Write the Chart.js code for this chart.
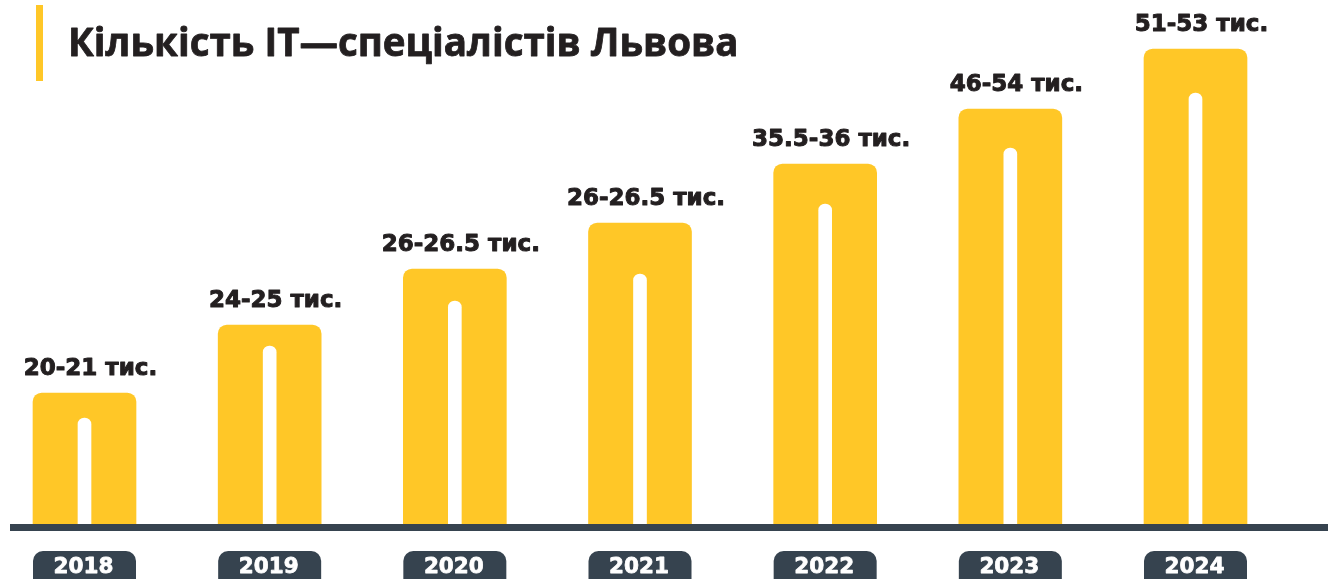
<!DOCTYPE html>
<html>
<head>
<meta charset="utf-8">
<script src="https://cdn.jsdelivr.net/npm/chart.js@4"></script>
<style>
  html, body { margin: 0; padding: 0; background: #ffffff; overflow: hidden; }
  #wrap { position: relative; width: 1328px; height: 579px; }
  canvas { display: block; }
</style>
</head>
<body>
<div id="wrap"><canvas id="c" width="1328" height="579"></canvas></div>
<script>
// ---- data ----
const years = ['2018', '2019', '2020', '2021', '2022', '2023', '2024'];
const valueLabels = ['20-21 тис.', '24-25 тис.', '26-26.5 тис.', '26-26.5 тис.', '35.5-36 тис.', '46-54 тис.', '51-53 тис.'];
// bar heights as drawn (relative units)
const barHeights = [131, 199, 255, 301, 360, 415, 475];
// inner white slot heights
const slotHeights = [106, 178, 223, 250, 320, 376, 431];
const titleText = 'Кількість IT—спеціалістів Львова';

const YELLOW = '#FFC727';
const DARK = '#36434F';
const TEXT = '#231F20';

function heavyText(ctx, txt, x, y, color, lw) {
  ctx.fillStyle = color;
  ctx.strokeStyle = color;
  ctx.lineWidth = lw;
  ctx.lineJoin = 'round';
  ctx.strokeText(txt, x, y);
  ctx.fillText(txt, x, y);
}

const decor = {
  id: 'decor',
  beforeDatasetsDraw(chart) {
    const ctx = chart.ctx;
    ctx.save();
    // title accent bar
    ctx.fillStyle = YELLOW;
    ctx.fillRect(36, 5, 7, 76);
    // title
    ctx.font = 'bold 38.5px "Open Sans"';
    ctx.textBaseline = 'alphabetic';
    ctx.textAlign = 'left';
    heavyText(ctx, titleText, 68, 56, TEXT, 0.8);
    ctx.restore();
  },
  afterDatasetsDraw(chart) {
    const ctx = chart.ctx;
    const area = chart.chartArea;
    const xs = chart.scales.x;
    const meta = chart.getDatasetMeta(0);
    ctx.save();
    // baseline
    ctx.fillStyle = DARK;
    ctx.fillRect(10, area.bottom, chart.width - 10, 7);
    // value labels
    ctx.font = 'bold 23px "DejaVu Sans"';
    ctx.textAlign = 'center';
    ctx.textBaseline = 'alphabetic';
    meta.data.forEach((bar, i) => {
      heavyText(ctx, valueLabels[i], bar.x + 6, bar.y - 18, TEXT, 1);
    });
    // year pills
    years.forEach((y, i) => {
      const cx = xs.getPixelForValue(i);
      const w = 103, top = area.bottom + 27;
      ctx.fillStyle = DARK;
      ctx.beginPath();
      ctx.roundRect(cx - w / 2, top, w, 40, 10);
      ctx.fill();
      ctx.font = 'bold 21.5px "DejaVu Sans"';
      ctx.textAlign = 'center';
      heavyText(ctx, y, cx - 1, top + 22, '#ffffff', 0.8);
    });
    ctx.restore();
  }
};

new Chart(document.getElementById('c'), {
  type: 'bar',
  data: {
    labels: years,
    datasets: [
      {
        data: barHeights,
        backgroundColor: YELLOW,
        barThickness: 103,
        borderRadius: { topLeft: 9, topRight: 9, bottomLeft: 0, bottomRight: 0 },
        borderSkipped: 'start',
        grouped: false,
        clip: false,
        order: 2
      },
      {
        data: slotHeights,
        backgroundColor: '#ffffff',
        barThickness: 13,
        borderRadius: { topLeft: 6.5, topRight: 6.5, bottomLeft: 0, bottomRight: 0 },
        borderSkipped: 'start',
        grouped: false,
        clip: false,
        order: 1
      }
    ]
  },
  options: {
    responsive: false,
    devicePixelRatio: 1,
    animation: false,
    layout: { padding: { left: 84.5, right: 132.5, top: 0, bottom: 55 } },
    plugins: { legend: { display: false }, tooltip: { enabled: false }, title: { display: false } },
    scales: {
      x: { display: false, offset: false, grid: { display: false } },
      y: { display: false, min: 0, max: 524, grid: { display: false } }
    }
  },
  plugins: [decor]
});
</script>
</body>
</html>
